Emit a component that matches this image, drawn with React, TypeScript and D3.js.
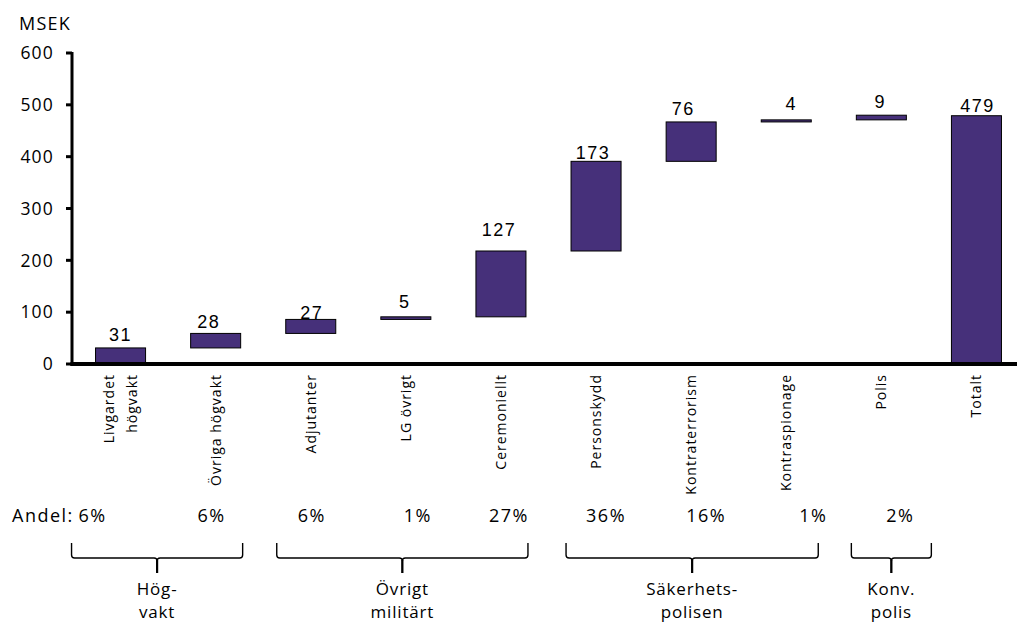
import React from "react";
import * as d3 from "d3";

const categories = [
  "Livgardet\nhögvakt",
  "Övriga högvakt",
  "Adjutanter",
  "LG övrigt",
  "Ceremoniellt",
  "Personskydd",
  "Kontraterrorism",
  "Kontraspionage",
  "Polis",
  "Totalt",
];
const values = [31, 28, 27, 5, 127, 173, 76, 4, 9, 479];
const isTotal = [false, false, false, false, false, false, false, false, false, true];
const andel = ["6%", "6%", "6%", "1%", "27%", "36%", "16%", "1%", "2%", ""];
const yTicks = [0, 100, 200, 300, 400, 500, 600];
const groups = [
  { name: ["Hög-", "vakt"], from: 0, to: 1 },
  { name: ["Övrigt", "militärt"], from: 2, to: 4 },
  { name: ["Säkerhets-", "polisen"], from: 5, to: 7 },
  { name: ["Konv.", "polis"], from: 8, to: 8 },
];

// layout-only constants
const W = 1017;
const H = 624;
const BAR_FILL = "#46307a";
const andelDx = [-28, -4, 1, 12, 8, 10, 15, 27, 19, 0];
const groupPad = [
  [-49, 27],
  [-34, 27],
  [-30, 32],
  [-30, 50],
];
const labelDx = [0, -7, 1, -1, -2, -3, -8, 5, -1, 1];
const labelGap = [7, 5, 0, 9, 15, 2, 7, 10, 7, 4];

export default function App() {
  const x = d3
    .scaleBand<string>()
    .domain(categories)
    .range([73, 1024])
    .paddingInner(0.474)
    .paddingOuter(0.237);
  const y = d3.scaleLinear().domain([0, 600]).range([364, 53]);

  let cum = 0;
  const bars = values.map((v, i) => {
    let lo: number, hi: number;
    if (isTotal[i]) {
      lo = 0;
      hi = v;
    } else {
      lo = cum;
      hi = cum + v;
      cum = hi;
    }
    return { cat: categories[i], v, lo, hi, i };
  });

  const font = "'Open Sans', 'Noto Sans', sans-serif";
  const numFont = "'Liberation Sans', Arial, sans-serif";

  return (
    <svg
      width={W}
      height={H}
      style={{ position: "absolute", left: 0, top: 0, background: "#fff" }}
    >
      {/* MSEK unit */}
      <text x={19} y={30} fontFamily={font} fontSize={18} letterSpacing={1.2} fill="#000">
        MSEK
      </text>

      {/* y ticks */}
      {yTicks.map((t) => (
        <g key={t}>
          <line x1={66} x2={72} y1={y(t)} y2={y(t)} stroke="#000" strokeWidth={3} />
          <text
            x={54}
            y={y(t)}
            dy="0.36em"
            textAnchor="end"
            fontFamily={font}
            fontSize={17.5}
            letterSpacing={1.2}
            fill="#000"
          >
            {t}
          </text>
        </g>
      ))}

      {/* bars */}
      {bars.map((b) => {
        const x0 = x(b.cat)!;
        const top = y(b.hi);
        const h = Math.max(y(b.lo) - y(b.hi), 1);
        return (
          <g key={b.cat}>
            <rect
              x={x0}
              y={top}
              width={x.bandwidth()}
              height={h}
              fill={BAR_FILL}
              stroke="#000"
              strokeWidth={1}
            />
            <text
              x={x0 + x.bandwidth() / 2 + labelDx[b.i]}
              y={top - labelGap[b.i]}
              textAnchor="middle"
              fontFamily={numFont}
              fontSize={18}
              letterSpacing={1.5}
              fill="#000"
            >
              {b.v}
            </text>
          </g>
        );
      })}

      {/* axes lines */}
      <line x1={72} x2={72} y1={y(600) - 1} y2={y(0) + 2} stroke="#000" strokeWidth={3} />
      <line x1={70.5} x2={W} y1={y(0)} y2={y(0)} stroke="#000" strokeWidth={4} />

      {/* rotated category labels */}
      {categories.map((c) => {
        const cx = x(c)! + x.bandwidth() / 2;
        const lines = c.split("\n");
        const n = lines.length;
        return lines.map((ln, k) => {
          const bx = cx + 5 + (k - (n - 1) / 2) * 23;
          return (
            <text
              key={c + k}
              transform={`translate(${bx},374) rotate(-90)`}
              textAnchor="end"
              fontFamily={font}
              fontSize={14}
              letterSpacing={1}
              fill="#000"
            >
              {ln}
            </text>
          );
        });
      })}

      {/* Andel row */}
      <text x={12} y={522} fontFamily={font} fontSize={18} letterSpacing={1.5} fill="#000">
        Andel:
      </text>
      {andel.map((a, i) =>
        a ? (
          <text
            key={"a" + i}
            x={x(categories[i])! + x.bandwidth() / 2 + andelDx[i]}
            y={522}
            textAnchor="middle"
            fontFamily={font}
            fontSize={18}
            letterSpacing={1.5}
            fill="#000"
          >
            {a}
          </text>
        ) : null
      )}

      {/* group brackets */}
      {groups.map((g, gi) => {
        const l = x(categories[g.from])! + x.bandwidth() / 2 + groupPad[gi][0];
        const r = x(categories[g.to])! + x.bandwidth() / 2 + groupPad[gi][1];
        const m = (l + r) / 2;
        const t = 543;
        const hy = 558;
        const sb = 573;
        const rr = 3;
        const d = `M${l},${t} L${l},${hy - rr} Q${l},${hy} ${l + rr},${hy} L${m - rr},${hy} Q${m},${hy} ${m},${hy + rr} L${m},${sb} M${m},${hy + rr} Q${m},${hy} ${m + rr},${hy} L${r - rr},${hy} Q${r},${hy} ${r},${hy - rr} L${r},${t}`;
        return (
          <g key={"g" + gi}>
            <path d={d} fill="none" stroke="#000" strokeWidth={1.4} />
            <line x1={m} x2={m} y1={hy + 2} y2={sb} stroke="#000" strokeWidth={2.2} />
            {g.name.map((nm, k) => (
              <text
                key={k}
                x={m}
                y={595 + k * 23}
                textAnchor="middle"
                fontFamily={font}
                fontSize={17}
                letterSpacing={0.8}
                fill="#000"
              >
                {nm}
              </text>
            ))}
          </g>
        );
      })}
    </svg>
  );
}
